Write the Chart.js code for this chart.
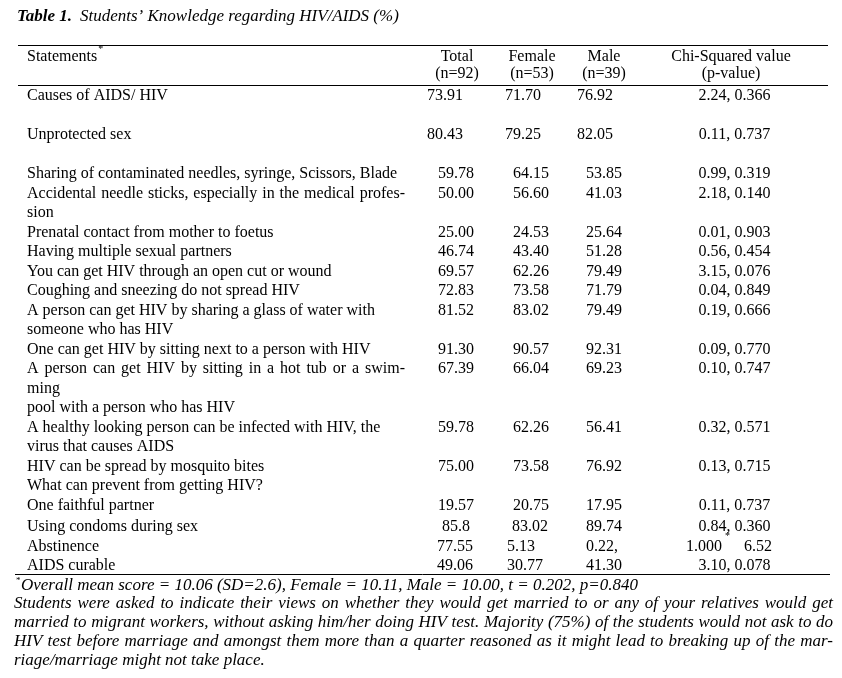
<!DOCTYPE html>
<html>
<head>
<meta charset="utf-8">
<script src="https://cdn.jsdelivr.net/npm/chart.js@4.4.1/dist/chart.umd.min.js"></script>
<style>
  html, body { margin: 0; padding: 0; background: #fff; }
  #table1 { display: block; }
</style>
</head>
<body>
<canvas id="table1" width="842" height="678"></canvas>
<script>
const title = ['Table 1.', 'Students\u2019 Knowledge regarding HIV/AIDS (%)'];
const headers = [
  ['Total', '(n=92)'],
  ['Female', '(n=53)'],
  ['Male', '(n=39)'],
  ['Chi-Squared value', '(p-value)']
];
const statements = [
  ['Causes of AIDS/ HIV', ''],
  ['Unprotected sex', ''],
  ['Sharing of contaminated needles, syringe, Scissors, Blade'],
  ['Accidental needle sticks, especially in the medical profes-', 'sion'],
  ['Prenatal contact from mother to foetus'],
  ['Having multiple sexual partners'],
  ['You can get HIV through an open cut or wound'],
  ['Coughing and sneezing do not spread HIV'],
  ['A person can get HIV by sharing a glass of water with', 'someone who has HIV'],
  ['One can get HIV by sitting next to a person with HIV'],
  ['A person can get HIV by sitting in a hot tub or a swim-', 'ming', 'pool with a person who has HIV'],
  ['A healthy looking person can be infected with HIV, the', 'virus that causes AIDS'],
  ['HIV can be spread by mosquito bites'],
  ['What can prevent from getting HIV?'],
  ['One faithful partner'],
  ['Using condoms during sex'],
  ['Abstinence'],
  ['AIDS curable']
];
const total  = ['73.91','80.43','59.78','50.00','25.00','46.74','69.57','72.83','81.52','91.30','67.39','59.78','75.00','','19.57','85.8','77.55','49.06'];
const female = ['71.70','79.25','64.15','56.60','24.53','43.40','62.26','73.58','83.02','90.57','66.04','62.26','73.58','','20.75','83.02','5.13','30.77'];
const male   = ['76.92','82.05','53.85','41.03','25.64','51.28','79.49','71.79','79.49','92.31','69.23','56.41','76.92','','17.95','89.74','0.22,','41.30'];
const chiSq  = ['2.24, 0.366','0.11, 0.737','0.99, 0.319','2.18, 0.140','0.01, 0.903','0.56, 0.454','3.15, 0.076','0.04, 0.849','0.19, 0.666','0.09, 0.770','0.10, 0.747','0.32, 0.571','0.13, 0.715','','0.11, 0.737','0.84, 0.360','1.000*6.52','3.10, 0.078'];
const footnotes = [
  'Overall mean score = 10.06 (SD=2.6), Female = 10.11, Male = 10.00, t = 0.202, p=0.840',
  'Students were asked to indicate their views on whether they would get married to or any of your relatives would get',
  'married to migrant workers, without asking him/her doing HIV test. Majority (75%) of the students would not ask to do',
  'HIV test before marriage and amongst them more than a quarter reasoned as it might lead to breaking up of the mar-',
  'riage/marriage might not take place.'
];

// ---- layout (page units on x, text lines on y) ----
const SERIF = '"Liberation Serif", "Times New Roman", serif';
const BODY = '16px ' + SERIF;
const TITLE = 'italic 17px ' + SERIF;
const NOTE = 'italic 17px ' + SERIF;
const COL_STATE = 27, STATE_RIGHT = 405;
const HEAD_CENTERS = [457, 532, 604, 731];
const CHI_CENTER = 734.5;
function valueCols(i){
  if (i < 2) return [427, 505, 577];
  if (i === 15) return [442, 512, 586];
  if (i > 15) return [437, 507, 586];
  return [438, 513, 586];
}

function justify(ctx, text, x, y, width){
  const words = text.split(' ');
  const ws = words.map(w => ctx.measureText(w).width);
  const gap = (width - ws.reduce((a,b)=>a+b,0)) / (words.length - 1);
  let cx = x;
  words.forEach((w,k)=>{ ctx.fillText(w, cx, y); cx += ws[k] + gap; });
}

const tablePlugin = {
  id: 'tableText',
  afterDraw(chart){
    const ctx = chart.ctx, X = chart.scales.x, Y = chart.scales.y;
    const px = v => X.getPixelForValue(v), py = v => Y.getPixelForValue(v);
    ctx.save();
    ctx.fillStyle = '#000';
    ctx.strokeStyle = '#000';
    ctx.textBaseline = 'middle';

    // title
    ctx.font = 'bold ' + TITLE;
    ctx.textAlign = 'left';
    ctx.fillText(title[0], px(17), py(-4.05));
    ctx.font = TITLE;
    ctx.fillText(title[1], px(80), py(-4.05));

    // rules
    ctx.lineWidth = 1;
    [[-2.6, 18, 828], [-0.56, 18, 828], [24.5, 15, 830]].forEach(r=>{
      const y = Math.round(py(r[0])) + 0.5;
      ctx.beginPath(); ctx.moveTo(px(r[1]), y); ctx.lineTo(px(r[2]), y); ctx.stroke();
    });

    // header
    ctx.font = BODY;
    ctx.fillText('Statements', px(COL_STATE), py(-2));
    const sw = ctx.measureText('Statements').width;
    ctx.font = '10px ' + SERIF;
    ctx.fillText('*', px(COL_STATE) + sw + 1, py(-2.4));
    ctx.font = BODY;
    ctx.textAlign = 'center';
    headers.forEach((h,k)=>{
      ctx.fillText(h[0], px(HEAD_CENTERS[k]), py(-2));
      ctx.fillText(h[1], px(HEAD_CENTERS[k]), py(-1.15));
    });

    // body rows
    let line = 0;
    statements.forEach((rows, i)=>{
      ctx.font = BODY;
      ctx.textAlign = 'left';
      rows.forEach((t, j)=>{
        if (!t) return;
        if (t.endsWith('-')) justify(ctx, t, px(COL_STATE), py(line + j), px(STATE_RIGHT) - px(COL_STATE));
        else ctx.fillText(t, px(COL_STATE), py(line + j));
      });
      const cols = valueCols(i);
      [total[i], female[i], male[i]].forEach((v,k)=>{ if (v) ctx.fillText(v, px(cols[k]), py(line)); });
      const c = chiSq[i];
      if (c.includes('*')) {
        const parts = c.split('*');
        ctx.fillText(parts[0], px(686), py(line));
        const w = ctx.measureText(parts[0]).width;
        ctx.font = '10px ' + SERIF;
        ctx.fillText('*', px(686) + w + 3, py(line - 0.5));
        ctx.font = BODY;
        ctx.textAlign = 'right';
        ctx.fillText(parts[1], px(772), py(line));
      } else if (c) {
        ctx.textAlign = 'center';
        ctx.fillText(c, px(CHI_CENTER), py(line));
      }
      line += rows.length + (i === 14 ? 0.1 : 0);
    });

    // footnotes
    ctx.textAlign = 'left';
    ctx.font = '9px ' + SERIF;
    ctx.fillText('*', px(16), py(24.85));
    ctx.font = NOTE;
    footnotes.forEach((t, k)=>{
      const y = py(25.08 + k * 0.97);
      const x0 = k === 0 ? 21 : 14;
      if (k >= 1 && k <= 3) justify(ctx, t, px(x0), y, px(833) - px(x0));
      else ctx.fillText(t, px(x0), y);
    });
    ctx.restore();
  }
};

new Chart(document.getElementById('table1'), {
  type: 'scatter',
  data: { datasets: [] },
  options: {
    responsive: false,
    animation: false,
    devicePixelRatio: 1,
    layout: { padding: 0 },
    plugins: { legend: { display: false }, tooltip: { enabled: false } },
    scales: {
      x: { type: 'linear', display: false, min: 0, max: 842 },
      y: { type: 'linear', display: false, reverse: true, min: -96 / 19.5, max: (678 - 96) / 19.5 }
    }
  },
  plugins: [tablePlugin]
});
</script>
</body>
</html>
